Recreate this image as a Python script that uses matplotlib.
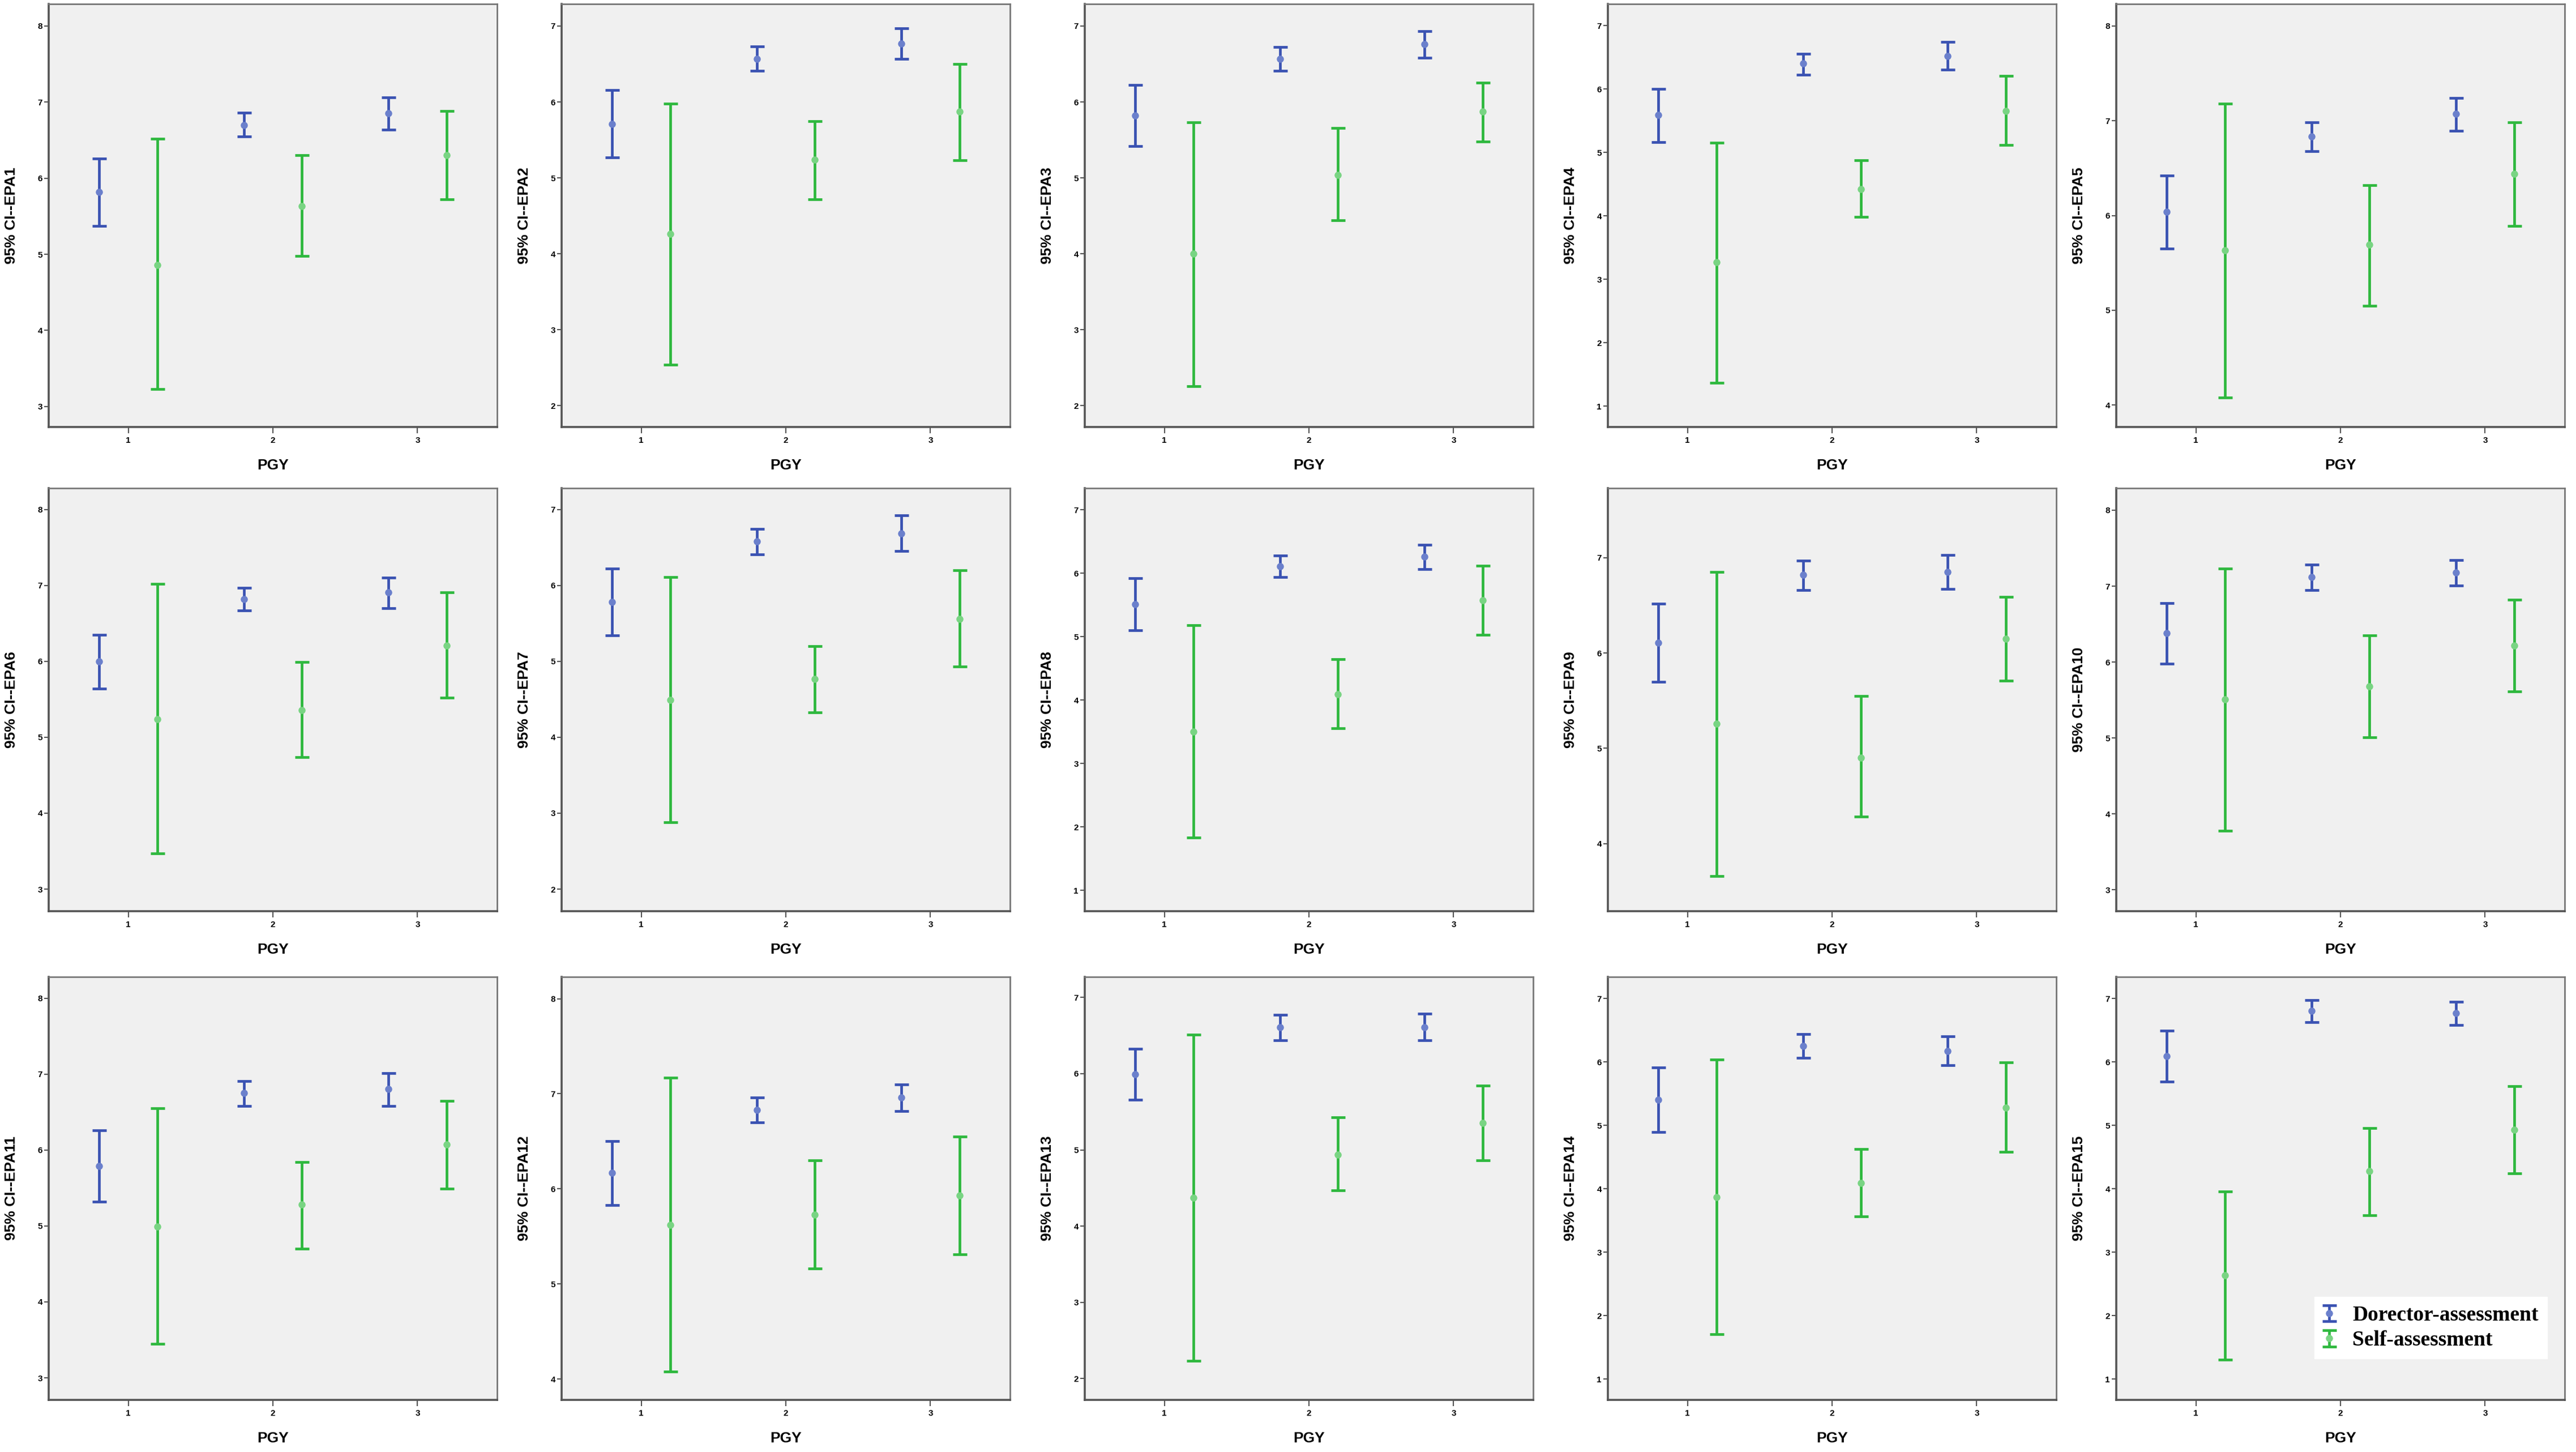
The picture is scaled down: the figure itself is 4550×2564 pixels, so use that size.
import matplotlib
matplotlib.use("Agg")
import matplotlib.pyplot as plt
from matplotlib.container import ErrorbarContainer
from matplotlib.legend_handler import HandlerErrorbar
import numpy as np

pgy = [1, 2, 3]
epa_names = [f"EPA{i}" for i in range(1, 16)]

dir_low = [
    [5.37, 6.55, 6.64], [5.27, 6.41, 6.57], [5.42, 6.41, 6.58], [5.16, 6.22, 6.30], [5.65, 6.68, 6.89],
    [5.64, 6.67, 6.70], [5.34, 6.41, 6.45], [5.10, 5.94, 6.06], [5.70, 6.66, 6.67], [5.98, 6.95, 7.01],
    [5.32, 6.58, 6.58], [5.83, 6.70, 6.82], [5.66, 6.44, 6.44], [4.89, 6.06, 5.95], [5.69, 6.63, 6.58],
]
dir_mean = [
    [5.82, 6.70, 6.85], [5.71, 6.57, 6.77], [5.82, 6.57, 6.76], [5.59, 6.40, 6.52], [6.04, 6.83, 7.07],
    [6.00, 6.82, 6.91], [5.78, 6.58, 6.68], [5.51, 6.11, 6.26], [6.11, 6.82, 6.85], [6.38, 7.12, 7.18],
    [5.79, 6.75, 6.80], [6.17, 6.83, 6.96], [5.99, 6.61, 6.61], [5.40, 6.25, 6.17], [6.09, 6.80, 6.77],
]
dir_high = [
    [6.26, 6.86, 7.06], [6.16, 6.73, 6.97], [6.22, 6.72, 6.93], [6.00, 6.55, 6.74], [6.42, 6.98, 7.24],
    [6.35, 6.97, 7.10], [6.22, 6.74, 6.92], [5.92, 6.28, 6.45], [6.52, 6.97, 7.03], [6.78, 7.28, 7.34],
    [6.26, 6.91, 7.01], [6.50, 6.96, 7.10], [6.33, 6.77, 6.79], [5.91, 6.44, 6.40], [6.49, 6.97, 6.95],
]
self_low = [
    [3.23, 4.98, 5.72], [2.54, 4.72, 5.23], [2.26, 4.44, 5.48], [1.37, 3.98, 5.12], [4.08, 5.05, 5.89],
    [3.47, 4.74, 5.52], [2.88, 4.33, 4.93], [1.83, 3.55, 5.03], [3.66, 4.28, 5.71], [3.78, 5.01, 5.61],
    [3.45, 4.70, 5.49], [4.08, 5.16, 5.31], [2.23, 4.47, 4.86], [1.71, 3.56, 4.58], [1.30, 3.58, 4.24],
]
self_mean = [
    [4.86, 5.63, 6.30], [4.26, 5.24, 5.87], [4.00, 5.04, 5.87], [3.27, 4.42, 5.65], [5.63, 5.69, 6.44],
    [5.24, 5.36, 6.21], [4.49, 4.77, 5.56], [3.50, 4.09, 5.57], [5.26, 4.90, 6.15], [5.51, 5.68, 6.22],
    [4.99, 5.28, 6.07], [5.62, 5.73, 5.93], [4.37, 4.94, 5.35], [3.87, 4.09, 5.28], [2.63, 4.28, 4.93],
]
self_high = [
    [6.52, 6.30, 6.88], [5.98, 5.75, 6.50], [5.73, 5.66, 6.25], [5.15, 4.88, 6.21], [7.18, 6.32, 6.98],
    [7.02, 5.99, 6.91], [6.11, 5.20, 6.20], [5.18, 4.64, 6.12], [6.85, 5.55, 6.59], [7.23, 6.35, 6.82],
    [6.55, 5.84, 6.65], [7.17, 6.30, 6.55], [6.51, 5.43, 5.84], [6.04, 4.63, 5.99], [3.96, 4.96, 5.62],
]
y_limits = [
    (2.73, 8.29), (1.72, 7.29), (1.72, 7.29), (0.67, 7.34), (3.77, 8.23),
    (2.71, 8.28), (1.71, 7.28), (0.67, 7.34), (3.29, 7.73), (2.72, 8.29),
    (2.71, 8.28), (3.78, 8.23), (1.72, 7.27), (0.67, 7.34), (0.67, 7.34),
]
series_labels = ["Dorector-assessment", "Self-assessment"]

BLUE = "#3a52b2"
BLUE_M = "#6b80cc"
GREEN = "#2eb83e"
GREEN_M = "#79d483"
BG = "#f0f0f0"
SPINE = "#555555"

W, H = 4550, 2564
fig = plt.figure(figsize=(W / 100, H / 100), dpi=100)
fig.patch.set_facecolor("white")

col_left = [86, 992, 1916, 2840, 3738]
row_top = [7, 862, 1725]
ax_w, ax_h = 792, 747

sans = ["Liberation Sans", "DejaVu Sans"]
serif = ["Liberation Serif", "DejaVu Serif"]

for i in range(15):
    r, c = divmod(i, 5)
    left = col_left[c] / W
    bottom = 1 - (row_top[r] + ax_h) / H
    ax = fig.add_axes([left, bottom, ax_w / W, ax_h / H])
    ax.set_facecolor(BG)
    x = np.array(pgy, dtype=float)
    dm, dl, dh = np.array(dir_mean[i]), np.array(dir_low[i]), np.array(dir_high[i])
    sm, sl, sh = np.array(self_mean[i]), np.array(self_low[i]), np.array(self_high[i])
    e1 = ax.errorbar(x - 0.2, dm, yerr=[dm - dl, dh - dm], fmt="o", color=BLUE,
                     ecolor=BLUE, elinewidth=3.4, capsize=9, capthick=3.4,
                     markersize=8, markerfacecolor=BLUE_M, markeredgecolor=BLUE_M,
                     label=series_labels[0])
    e2 = ax.errorbar(x + 0.2, sm, yerr=[sm - sl, sh - sm], fmt="o", color=GREEN,
                     ecolor=GREEN, elinewidth=3.4, capsize=9, capthick=3.4,
                     markersize=8, markerfacecolor=GREEN_M, markeredgecolor=GREEN_M,
                     label=series_labels[1])
    ax.set_xlim(0.45, 3.55)
    lo, hi = y_limits[i]
    ax.set_ylim(lo, hi)
    ax.set_xticks(pgy)
    ax.set_yticks(np.arange(np.ceil(lo), np.floor(hi) + 1))
    ax.set_xticklabels([str(p) for p in pgy], fontfamily=sans, fontweight="bold", fontsize=11)
    ax.set_yticklabels([str(int(v)) for v in ax.get_yticks()], fontfamily=sans, fontweight="bold", fontsize=11)
    ax.tick_params(axis="x", length=8, width=1.5, color=SPINE, pad=4)
    ax.tick_params(axis="y", length=6, width=1.5, color=SPINE, pad=2)
    for side in ["left", "bottom"]:
        ax.spines[side].set_color(SPINE)
        ax.spines[side].set_linewidth(2.6)
    for side in ["top", "right"]:
        ax.spines[side].set_color("#777777")
        ax.spines[side].set_linewidth(2.0)
    ax.set_ylabel(f"95% CI--{epa_names[i]}", fontfamily=sans, fontweight="bold", fontsize=19)
    ax.yaxis.set_label_coords(-0.068, 0.5)
    ax.set_xlabel("PGY", fontfamily=sans, fontweight="bold", fontsize=19)
    ax.xaxis.set_label_coords(0.5, -0.075)
    if i == 14:
        leg = ax.legend(handles=[e1, e2], loc="lower left", bbox_to_anchor=(0.418, 0.072),
                        prop={"family": serif, "weight": "bold", "size": 27},
                        handlelength=0.6, handletextpad=0.8, labelspacing=0.25,
                        borderpad=0.4, frameon=True, fancybox=False, numpoints=1,
                        handler_map={ErrorbarContainer: HandlerErrorbar(xerr_size=0.38, yerr_size=0.38)})
        leg.get_frame().set_facecolor("white")
        leg.get_frame().set_edgecolor("white")
        leg.get_frame().set_alpha(1.0)

fig.savefig("out.png", dpi=100, facecolor="white")
